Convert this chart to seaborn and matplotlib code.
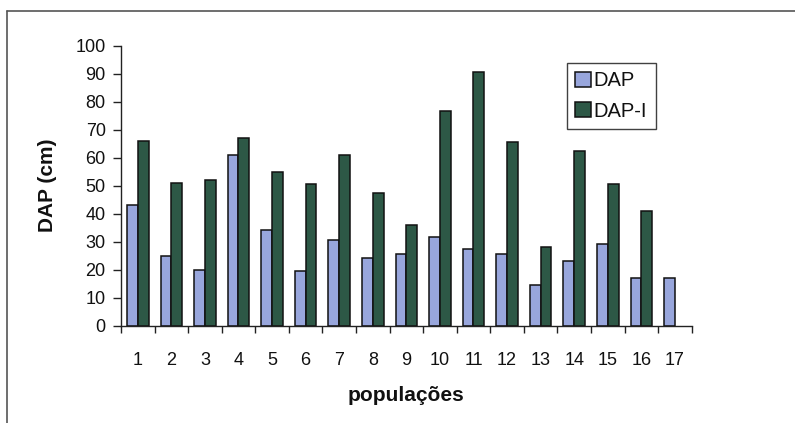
import numpy as np
import pandas as pd
import matplotlib
matplotlib.use("Agg")
import matplotlib.pyplot as plt
from matplotlib.lines import Line2D
from matplotlib.ticker import FixedLocator
import seaborn as sns

# Diameter at breast height per population
populacoes = [str(i) for i in range(1, 18)]
dap = [43, 25, 20, 61, 34, 19.5, 30.5, 24, 25.5, 31.5, 27.5, 25.5, 14.5, 23, 29, 17, 17]
dap_i = [66, 51, 52, 67, 55, 50.5, 61, 47.5, 36, 76.5, 90.5, 65.5, 28, 62.5, 50.5, 41, np.nan]
series = ["DAP", "DAP-I"]
cores = ["#98a6dc", "#2d5846"]

df = pd.DataFrame({
    "populações": populacoes * 2,
    "valor": dap + dap_i,
    "série": [series[0]] * len(dap) + [series[1]] * len(dap_i),
})

sns.set_style("white")
plt.rcParams["font.family"] = ["Liberation Sans", "DejaVu Sans"]

fig = plt.figure(figsize=(7.95, 4.23), dpi=100)
ax = fig.add_axes([121 / 795, 1 - 325.7 / 423, (691.7 - 121) / 795, (325.7 - 45.7) / 423])

sns.barplot(data=df, x="populações", y="valor", hue="série", order=populacoes,
            hue_order=series, palette=cores, width=0.64, errorbar=None,
            edgecolor="#111111", linewidth=1.1, saturation=1, ax=ax)

ax.set_xlim(-0.5, len(populacoes) - 0.5)
ax.set_ylim(0, 100)
ax.set_yticks(range(0, 101, 10))

# Category ticks sit between the groups; labels stay centred
ax.xaxis.set_minor_locator(FixedLocator(np.arange(-0.5, len(populacoes), 1.0)))
ax.tick_params(axis="x", which="major", length=0, pad=19, labelsize=13, labelcolor="#111111")
ax.tick_params(axis="x", which="minor", length=5, width=1, color="#222222", direction="out", bottom=True)
ax.tick_params(axis="y", length=6, width=1, color="#222222", direction="out", left=True, pad=5,
               labelsize=13, labelcolor="#111111")

for side in ("top", "right"):
    ax.spines[side].set_visible(False)
for side in ("left", "bottom"):
    ax.spines[side].set_color("#222222")
    ax.spines[side].set_linewidth(1.0)

ax.set_ylabel("DAP (cm)", fontsize=15, fontweight="bold", color="#111111")
ax.yaxis.set_label_coords(-0.112, 0.5)
ax.set_xlabel("populações", fontsize=15, fontweight="bold", color="#111111")
ax.xaxis.set_label_coords(0.5, -0.215)

leg = ax.legend(loc="upper left", bbox_to_anchor=(567 / 795, 1 - 63 / 423),
                bbox_transform=fig.transFigure, frameon=True, fancybox=False,
                fontsize=14.5, handlelength=0.75, handleheight=0.75, handletextpad=0.15,
                borderpad=0.42, labelspacing=0.55, borderaxespad=0)
leg.get_frame().set_edgecolor("#111111")
leg.get_frame().set_linewidth(1.0)
for t in leg.get_texts():
    t.set_color("#111111")

# Outer chart frame
fig.add_artist(Line2D([7 / 795, 1.0], [1 - 11 / 423, 1 - 11 / 423], color="#555555", lw=1.2))
fig.add_artist(Line2D([7 / 795, 7 / 795], [1 - 11 / 423, 0.0], color="#555555", lw=1.2))

fig.savefig("out.png", dpi=100)
